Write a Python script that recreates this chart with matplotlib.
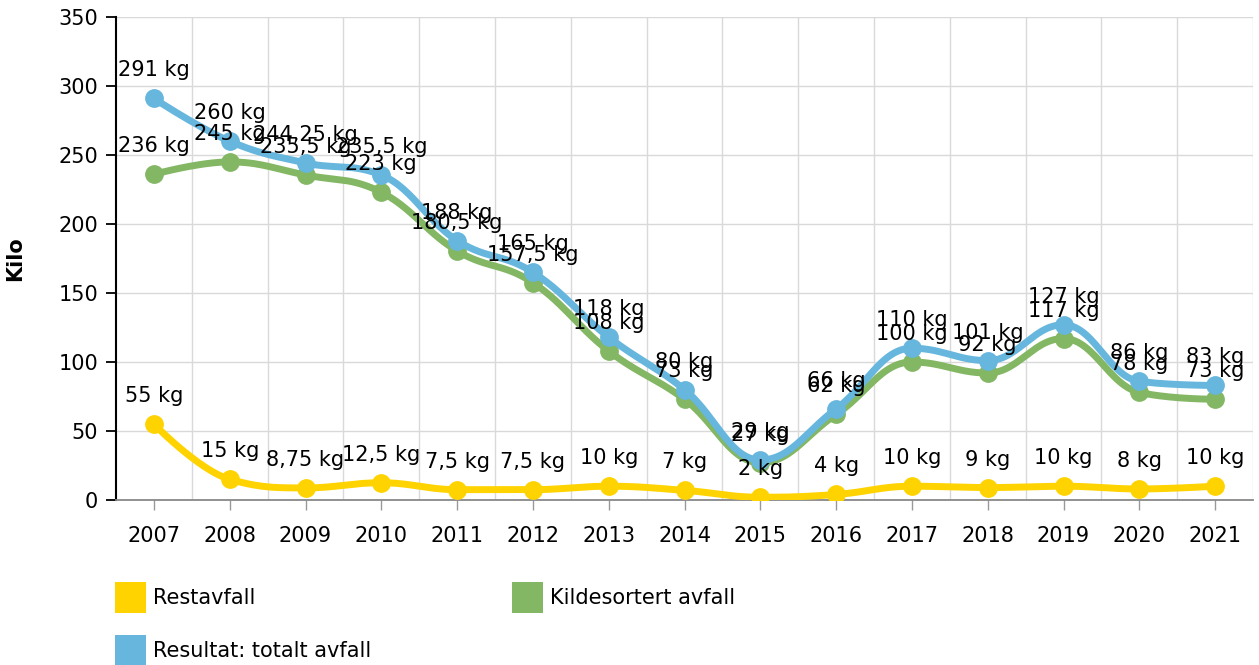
import matplotlib
matplotlib.use("Agg")
import matplotlib.pyplot as plt
from matplotlib.patches import Rectangle
import numpy as np

years = [2007, 2008, 2009, 2010, 2011, 2012, 2013, 2014, 2015, 2016, 2017, 2018, 2019, 2020, 2021]
restavfall = [55, 15, 8.75, 12.5, 7.5, 7.5, 10, 7, 2, 4, 10, 9, 10, 8, 10]
kildesortert = [236, 245, 235.5, 223, 180.5, 157.5, 108, 73, 27, 62, 100, 92, 117, 78, 73]
totalt = [291, 260, 244.25, 235.5, 188, 165, 118, 80, 29, 66, 110, 101, 127, 86, 83]
series_names = ["Restavfall", "Kildesortert avfall", "Resultat: totalt avfall"]
colors = ["#FFD300", "#83B764", "#66B6DD"]
y_ticks = [0, 50, 100, 150, 200, 250, 300, 350]

plt.rcParams['font.family'] = ['DejaVu Sans']
FS = 15

def spline(xs, ys, smoothing=1.5, n=30):
    xs = np.asarray(xs, float); ys = np.asarray(ys, float)
    N = len(xs)
    lc = [(x, y) for x, y in zip(xs, ys)]
    rc = [(x, y) for x, y in zip(xs, ys)]
    denom = smoothing + 1
    for i in range(1, N - 1):
        px, py = xs[i], ys[i]
        lx, ly = xs[i-1], ys[i-1]
        nx, ny = xs[i+1], ys[i+1]
        lcx = (smoothing * px + lx) / denom
        lcy = (smoothing * py + ly) / denom
        rcx = (smoothing * px + nx) / denom
        rcy = (smoothing * py + ny) / denom
        if rcx != lcx:
            corr = ((rcy - lcy) * (rcx - px)) / (rcx - lcx) + py - rcy
            lcy += corr
            rcy += corr
        if lcy > ly and lcy > py:
            lcy = max(ly, py); rcy = 2 * py - lcy
        elif lcy < ly and lcy < py:
            lcy = min(ly, py); rcy = 2 * py - lcy
        if rcy > ny and rcy > py:
            rcy = max(ny, py); lcy = 2 * py - rcy
        elif rcy < ny and rcy < py:
            rcy = min(ny, py); lcy = 2 * py - rcy
        lc[i] = (lcx, lcy)
        rc[i] = (rcx, rcy)
    t = np.linspace(0, 1, n)
    outx, outy = [], []
    for i in range(1, N):
        p0 = (xs[i-1], ys[i-1]); p1 = rc[i-1]; p2 = lc[i]; p3 = (xs[i], ys[i])
        bx = (1-t)**3*p0[0] + 3*(1-t)**2*t*p1[0] + 3*(1-t)*t**2*p2[0] + t**3*p3[0]
        by = (1-t)**3*p0[1] + 3*(1-t)**2*t*p1[1] + 3*(1-t)*t**2*p2[1] + t**3*p3[1]
        outx.extend(bx); outy.extend(by)
    return np.array(outx), np.array(outy)

def fmt(v):
    s = ("%g" % v).replace(".", ",")
    return s + " kg"

fig = plt.figure(figsize=(12.59, 6.65), dpi=100)
W, H = 1259, 665
ax = fig.add_axes([116/W, (H-500)/H, (1253-116)/W, (500-17)/H])
ax.set_xlim(2006.5, 2021.5)
ax.set_ylim(0, 350)

for i, (name, vals) in enumerate(zip(series_names, [restavfall, kildesortert, totalt])):
    sx, sy = spline(years, vals)
    ax.plot(sx, sy, color=colors[i], lw=5, solid_capstyle='round', zorder=3+i)
    ax.plot(years, vals, 'o', color=colors[i], ms=12.5, mec=colors[i], zorder=3+i)

for i, vals in enumerate([restavfall, kildesortert, totalt]):
    for x, v in zip(years, vals):
        ax.annotate(fmt(v), (x, v), xytext=(0, 28), textcoords='offset pixels',
                    ha='center', va='center', fontsize=FS, color='#000000', zorder=10)

# grid
for y in y_ticks[1:]:
    ax.axhline(y, color='#d9d9d9', lw=1, zorder=1)
for k in range(len(years)):
    ax.axvline(years[0] + 0.5 + k, color='#d9d9d9', lw=1, zorder=1)

ax.set_yticks(y_ticks)
ax.set_yticklabels([str(v) for v in y_ticks], fontsize=FS)
ax.set_xticks(years)
ax.set_xticklabels([str(y) for y in years], fontsize=FS)
ax.tick_params(axis='y', length=7, width=1.3, color='black', pad=6)
ax.tick_params(axis='x', length=7, width=1, color='#999999', pad=12)
for s in ['top', 'right']:
    ax.spines[s].set_visible(False)
ax.spines['left'].set_color('black')
ax.spines['left'].set_linewidth(1.5)
ax.spines['bottom'].set_color('#888888')
ax.spines['bottom'].set_linewidth(1.3)
ax.set_ylabel("Kilo", fontsize=FS, fontweight='bold', labelpad=14)
ax.yaxis.set_label_coords(-(116-25)/(1253-116), 0.5)

# legend
leg = [(115, 582, 0), (512, 582, 1), (115, 635, 2)]
for (x, y, i) in leg:
    fig.patches.append(Rectangle((x/W, 1 - (y+31)/H), 31/W, 31/H, transform=fig.transFigure,
                                 facecolor=colors[i], edgecolor='none'))
    fig.text((x + 38)/W, 1 - (y + 16)/H, series_names[i], fontsize=FS, va='center', ha='left')

fig.savefig("out.png", dpi=100)
